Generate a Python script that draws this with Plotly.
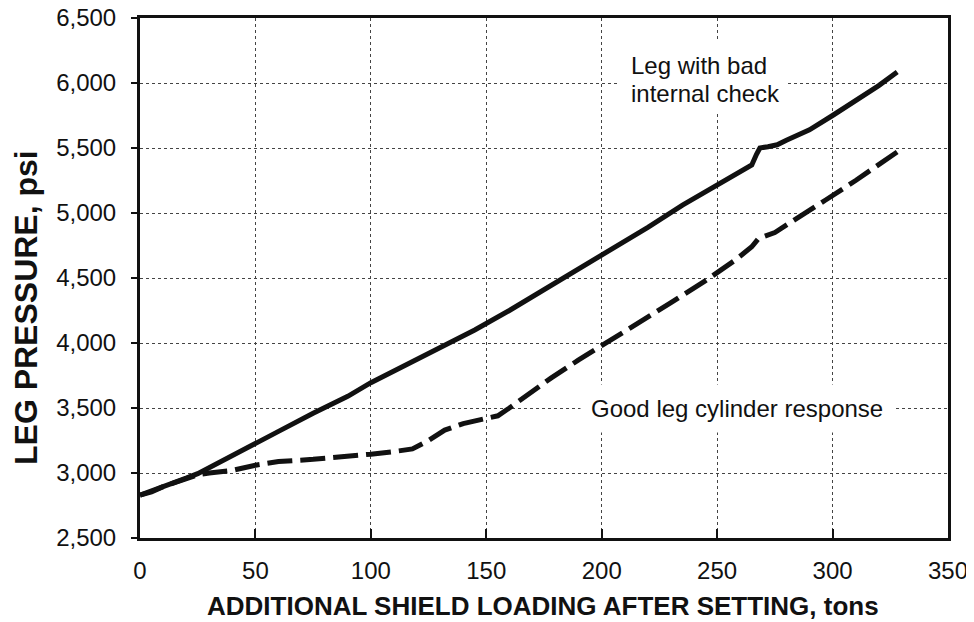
import plotly.graph_objects as go

# Leg with bad internal check (solid)
bad_x = [0, 5, 10, 15, 20, 25, 30, 40, 50, 60, 75, 90, 100, 115, 130, 145, 160, 175, 190,
         205, 220, 235, 250, 260, 265, 267, 268.5, 272, 276, 280, 290, 300, 310, 320, 328]
bad_y = [2830, 2860, 2900, 2930, 2960, 2995, 3040, 3135, 3225, 3320, 3460, 3590, 3695, 3830,
         3960, 4100, 4250, 4410, 4560, 4720, 4890, 5060, 5215, 5320, 5370, 5450, 5500, 5510,
         5525, 5560, 5640, 5750, 5860, 5980, 6085]

# Good leg cylinder response (dashed)
good_x = [0, 5, 10, 15, 20, 25, 30, 40, 50, 60, 75, 90, 100, 110, 118, 125, 132, 140, 148,
          155, 160, 167, 178, 190, 202, 215, 230, 245, 258, 265, 268, 275, 285, 297, 310, 320, 328]
good_y = [2830, 2855, 2895, 2925, 2955, 2985, 3000, 3020, 3060, 3088, 3105, 3125, 3145, 3165,
          3185, 3250, 3330, 3380, 3410, 3440, 3500, 3590, 3730, 3870, 4000, 4140, 4310, 4480,
          4640, 4740, 4805, 4850, 4960, 5100, 5250, 5370, 5470]

x_ticks = [0, 50, 100, 150, 200, 250, 300, 350]
y_ticks = [2500, 3000, 3500, 4000, 4500, 5000, 5500, 6000, 6500]

bad_label = ["Leg with bad", "internal check"]
good_label = "Good leg cylinder response"

FONT = "Liberation Sans, Arial, sans-serif"

# page body has an 8px margin, so the figure is sized/offset to compensate
OFF = 8
W, H = 974 - OFF, 622 - OFF
L, R, T, B = 140 - OFF, 26, 18 - OFF, 84

fig = go.Figure()
fig.add_trace(go.Scatter(x=bad_x, y=bad_y, mode="lines",
                         line=dict(color="#111", width=5), showlegend=False))
fig.add_trace(go.Scatter(x=good_x, y=good_y, mode="lines",
                         line=dict(color="#111", width=5, dash="25px,8px"), showlegend=False))

# white background behind the two-line label (covers gridlines only)
fig.add_shape(type="rect", xref="x", yref="y", x0=207.9, x1=280.7, y0=5777, y1=6315,
              fillcolor="white", line=dict(width=0), layer="between")
for txt, yv in zip(bad_label, [6131, 5923]):
    fig.add_annotation(x=208.8, y=yv, xref="x", yref="y", xanchor="left", yanchor="middle",
                       text=txt, align="left", showarrow=False, borderpad=8,
                       font=dict(family=FONT, size=24, color="#111"))
fig.add_annotation(x=258.7, y=3500, xref="x", yref="y", xanchor="center", yanchor="middle",
                   text=good_label, showarrow=False,
                   bgcolor="white", borderpad=10,
                   font=dict(family=FONT, size=24, color="#111"))


def px2paper(px, py):
    px -= OFF
    py -= OFF
    return (px - L) / (W - L - R), 1 - (py - T) / (H - T - B)


yx, yy = px2paper(26, 308)
fig.add_annotation(x=yx, y=yy, xref="paper", yref="paper", text="LEG PRESSURE, psi",
                   showarrow=False, textangle=-90, xanchor="center", yanchor="middle",
                   font=dict(family=FONT, size=32, color="#111", weight="bold"))
xx, xy = px2paper(543, 606)
fig.add_annotation(x=xx, y=xy, xref="paper", yref="paper",
                   text="ADDITIONAL SHIELD LOADING AFTER SETTING, tons",
                   showarrow=False, xanchor="center", yanchor="middle",
                   font=dict(family=FONT, size=26, color="#111", weight="bold"))

fig.update_layout(
    width=W, height=H,
    margin=dict(l=L, r=R, t=T, b=B, autoexpand=False),
    paper_bgcolor="white", plot_bgcolor="white",
    font=dict(family=FONT, size=24, color="#111"),
    xaxis=dict(range=[0, 350], tickvals=x_ticks, showline=True, mirror=True,
               linewidth=3, linecolor="#111", ticks="inside", ticklen=9, tickwidth=2,
               tickcolor="#111", showgrid=True, gridcolor="#444", gridwidth=1,
               griddash="dot", zeroline=False, ticklabelstandoff=9, automargin=False,
               ticklabeloverflow="allow",
               tickfont=dict(family=FONT, size=24, color="#111")),
    yaxis=dict(range=[2500, 6500], tickvals=y_ticks, tickformat=",", showline=True,
               mirror=True, linewidth=3, linecolor="#111", ticks="outside", ticklen=6,
               tickwidth=2, tickcolor="#111", showgrid=True, gridcolor="#444", gridwidth=1,
               griddash="dot", zeroline=False, ticklabelstandoff=10, automargin=False,
               ticklabeloverflow="allow",
               tickfont=dict(family=FONT, size=24, color="#111")),
)

fig.write_html("out.html")
